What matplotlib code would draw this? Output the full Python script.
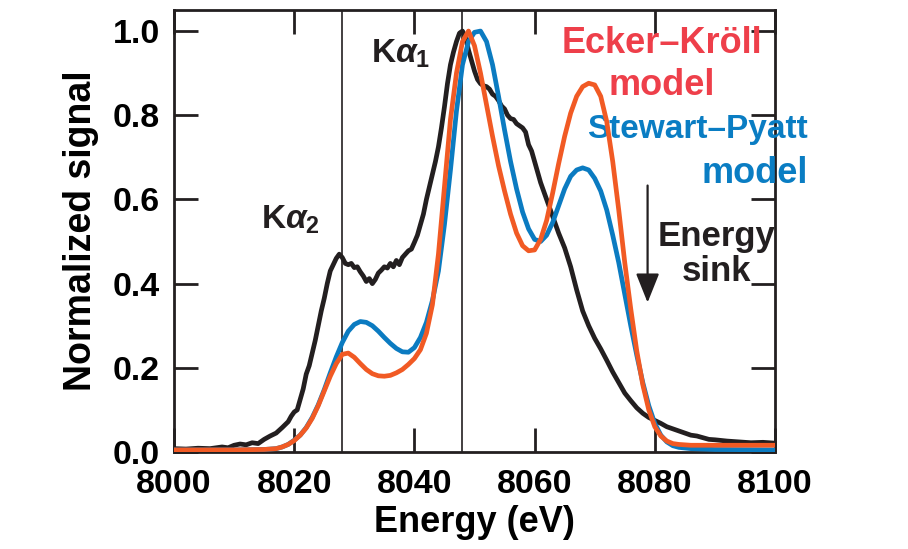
import matplotlib
matplotlib.use("Agg")
import matplotlib.pyplot as plt
import numpy as np

plt.rcParams['font.family'] = ['Liberation Sans', 'DejaVu Sans']
plt.rcParams['font.weight'] = 'bold'
plt.rcParams['mathtext.fontset'] = 'custom'
plt.rcParams['mathtext.rm'] = 'Liberation Sans:bold'
plt.rcParams['mathtext.it'] = 'Liberation Sans:italic:bold'
plt.rcParams['mathtext.bf'] = 'Liberation Sans:bold'

# ---------------- data ----------------
exp_E = [8000, 8002, 8004, 8006, 8008, 8009, 8010, 8011, 8012, 8013, 8014, 8015, 8016, 8017, 8018, 8019,
         8019.5, 8020, 8020.5, 8021, 8021.5, 8022, 8022.5, 8023, 8023.5, 8024, 8024.5, 8025, 8025.5, 8026,
         8026.5, 8027, 8027.5, 8028, 8028.5, 8029, 8029.5, 8030, 8030.5, 8031, 8031.5, 8032, 8032.5, 8033,
         8033.5, 8034, 8034.5, 8035, 8035.5, 8036, 8036.5, 8037, 8037.5, 8038, 8038.5, 8039, 8039.5, 8040,
         8040.5, 8041, 8041.5, 8042, 8042.5, 8043, 8043.5, 8044, 8044.5, 8045, 8045.5, 8046, 8046.5, 8047,
         8047.5, 8048, 8048.5, 8049, 8049.5, 8050, 8050.5, 8051, 8051.5, 8052, 8052.5, 8053, 8053.5, 8054,
         8054.5, 8055, 8055.5, 8056, 8056.5, 8057, 8057.5, 8058, 8058.5, 8059, 8059.5, 8060, 8060.5, 8061,
         8062, 8063, 8064, 8065, 8066, 8067, 8068, 8069, 8070, 8071, 8072, 8073, 8074, 8075, 8076, 8077,
         8078, 8079, 8080, 8081, 8082, 8083, 8084, 8085, 8086, 8087, 8088, 8089, 8090, 8092, 8094, 8096,
         8098, 8100]
exp_S = [0.008, 0.007, 0.009, 0.008, 0.012, 0.010, 0.016, 0.019, 0.017, 0.022, 0.020, 0.030, 0.038, 0.045,
         0.058, 0.072, 0.085, 0.095, 0.100, 0.125, 0.150, 0.185, 0.205, 0.235, 0.265, 0.300, 0.335, 0.365,
         0.400, 0.430, 0.445, 0.460, 0.470, 0.462, 0.448, 0.445, 0.448, 0.438, 0.440, 0.428, 0.418, 0.405,
         0.412, 0.400, 0.410, 0.425, 0.432, 0.440, 0.437, 0.448, 0.440, 0.455, 0.445, 0.462, 0.470, 0.478,
         0.482, 0.498, 0.515, 0.540, 0.565, 0.600, 0.630, 0.660, 0.690, 0.725, 0.770, 0.820, 0.875, 0.920,
         0.950, 0.975, 0.995, 1.000, 0.985, 0.955, 0.930, 0.905, 0.885, 0.875, 0.870, 0.868, 0.862, 0.850,
         0.845, 0.835, 0.822, 0.815, 0.800, 0.792, 0.790, 0.780, 0.775, 0.770, 0.760, 0.730, 0.715, 0.690,
         0.665, 0.640, 0.600, 0.560, 0.520, 0.485, 0.440, 0.385, 0.335, 0.300, 0.270, 0.245, 0.218, 0.190,
         0.165, 0.140, 0.122, 0.105, 0.092, 0.082, 0.075, 0.068, 0.060, 0.055, 0.050, 0.045, 0.040, 0.038,
         0.034, 0.030, 0.029, 0.026, 0.024, 0.022, 0.023, 0.021]

sp_E = [8000, 8005, 8010, 8015, 8017, 8018, 8019, 8020, 8021, 8022, 8023, 8024, 8025, 8026, 8027, 8028,
        8029, 8030, 8031, 8032, 8033, 8034, 8035, 8036, 8037, 8038, 8039, 8040, 8041, 8042, 8043, 8044,
        8045, 8046, 8047, 8048, 8049, 8050, 8051, 8052, 8053, 8054, 8055, 8056, 8057, 8058, 8059, 8060,
        8061, 8062, 8063, 8064, 8065, 8066, 8067, 8068, 8069, 8070, 8071, 8072, 8073, 8074, 8075, 8076,
        8077, 8078, 8079, 8080, 8081, 8082, 8083, 8084, 8086, 8090, 8100]
sp_S = [0.005, 0.005, 0.005, 0.006, 0.008, 0.012, 0.018, 0.028, 0.040, 0.058, 0.082, 0.112, 0.148, 0.188,
        0.226, 0.260, 0.287, 0.303, 0.310, 0.308, 0.300, 0.287, 0.272, 0.258, 0.246, 0.238, 0.237, 0.248,
        0.272, 0.308, 0.360, 0.430, 0.540, 0.670, 0.810, 0.920, 0.975, 0.997, 1.000, 0.975, 0.920, 0.845,
        0.765, 0.690, 0.625, 0.570, 0.530, 0.505, 0.500, 0.515, 0.545, 0.585, 0.625, 0.655, 0.670, 0.675,
        0.670, 0.650, 0.620, 0.575, 0.515, 0.450, 0.375, 0.300, 0.230, 0.165, 0.110, 0.068, 0.040, 0.024,
        0.015, 0.011, 0.008, 0.006, 0.005]

ek_E = [8000, 8005, 8010, 8015, 8017, 8018, 8019, 8020, 8021, 8022, 8023, 8024, 8025, 8026, 8027, 8028,
        8029, 8030, 8031, 8032, 8033, 8034, 8035, 8036, 8037, 8038, 8039, 8040, 8041, 8042, 8043, 8044,
        8045, 8046, 8047, 8048, 8049, 8050, 8051, 8052, 8053, 8054, 8055, 8056, 8057, 8058, 8059, 8060,
        8061, 8062, 8063, 8064, 8065, 8066, 8067, 8068, 8069, 8070, 8071, 8072, 8073, 8074, 8075, 8076,
        8077, 8078, 8079, 8080, 8081, 8082, 8083, 8084, 8086, 8100]
ek_S = [0.005, 0.005, 0.005, 0.006, 0.008, 0.012, 0.018, 0.027, 0.040, 0.057, 0.080, 0.110, 0.145, 0.180,
        0.210, 0.232, 0.235, 0.225, 0.210, 0.196, 0.186, 0.181, 0.180, 0.182, 0.188, 0.196, 0.208, 0.222,
        0.243, 0.282, 0.350, 0.470, 0.630, 0.790, 0.900, 0.975, 1.000, 0.965, 0.900, 0.825, 0.750, 0.680,
        0.620, 0.565, 0.520, 0.490, 0.478, 0.480, 0.505, 0.550, 0.615, 0.685, 0.750, 0.805, 0.845, 0.868,
        0.876, 0.872, 0.845, 0.785, 0.690, 0.575, 0.450, 0.340, 0.240, 0.160, 0.100, 0.060, 0.038, 0.026,
        0.020, 0.018, 0.016, 0.016]

line_positions = [8028, 8048]
x_ticks = [8000, 8020, 8040, 8060, 8080, 8100]
y_ticks = [0.0, 0.2, 0.4, 0.6, 0.8, 1.0]
y_ticklabels = ['0.0', '0.2', '0.4', '0.6', '0.8', '1.0']

BLACK = '#231f20'
BLUE = '#0b7bc1'
ORANGE = '#f15a24'
RED_TXT = '#ee3f4a'
BLUE_TXT = '#0a7dc3'

# ---------------- figure ----------------
fig = plt.figure(figsize=(9.08, 5.49), dpi=100)
ax = fig.add_axes([174/908, 1-452/549, (775-174)/908, (452-10)/549])

for xv in line_positions:
    ax.axvline(xv, color=BLACK, lw=1.2, zorder=1)

ax.plot(exp_E, exp_S, color=BLACK, lw=3.4, zorder=3, solid_joinstyle='round')
ax.plot(sp_E, sp_S, color=BLUE, lw=3.4, zorder=4)
ax.plot(ek_E, ek_S, color=ORANGE, lw=3.4, zorder=5)

ax.set_xlim(8000, 8100)
ax.set_ylim(0, 1.05)
ax.set_xticks(x_ticks)
ax.set_yticks(y_ticks)
ax.set_yticklabels(y_ticklabels)
ax.tick_params(direction='in', length=17, width=2.0, top=True, right=True,
               labelsize=24.5, color=BLACK, labelcolor='black')
ax.tick_params(axis='x', pad=12)
ax.tick_params(axis='y', pad=10)
for s in ax.spines.values():
    s.set_linewidth(2.0)
    s.set_color(BLACK)

ax.set_xlabel('Energy (eV)', fontsize=26, fontweight='bold', labelpad=4)
ax.set_ylabel('Normalized signal', fontsize=27, fontweight='bold', labelpad=10)

# annotations
ax.text(8014.5, 0.531, r'K$\mathit{\alpha}_{\mathrm{2}}$', fontsize=24, fontweight='bold',
        ha='left', va='baseline', color=BLACK)
ax.text(8032.8, 0.924, r'K$\mathit{\alpha}_{\mathrm{1}}$', fontsize=24, fontweight='bold',
        ha='left', va='baseline', color=BLACK)
ax.text(8081.2, 0.948, 'Ecker\u2013Kr\u00f6ll', fontsize=26, fontweight='bold', color=RED_TXT,
        ha='center', va='baseline')
ax.text(8081.2, 0.848, 'model', fontsize=26, fontweight='bold', color=RED_TXT,
        ha='center', va='baseline')
ax.text(8105.5, 0.745, 'Stewart\u2013Pyatt', fontsize=24, fontweight='bold', color=BLUE_TXT,
        ha='right', va='baseline', clip_on=False)
ax.text(8105.5, 0.638, 'model', fontsize=26, fontweight='bold', color=BLUE_TXT,
        ha='right', va='baseline', clip_on=False)
ax.text(8090.2, 0.49, 'Energy', fontsize=25, fontweight='bold', color=BLACK,
        ha='center', va='baseline')
ax.text(8090.2, 0.407, 'sink', fontsize=25, fontweight='bold', color=BLACK,
        ha='center', va='baseline')
ax.annotate('', xy=(8078.8, 0.355), xytext=(8078.8, 0.633),
            arrowprops=dict(arrowstyle='-|>,head_length=0.9,head_width=0.36', lw=1.6,
                            color=BLACK, shrinkA=0, shrinkB=0, mutation_scale=20))

fig.savefig('out.png', dpi=100)
